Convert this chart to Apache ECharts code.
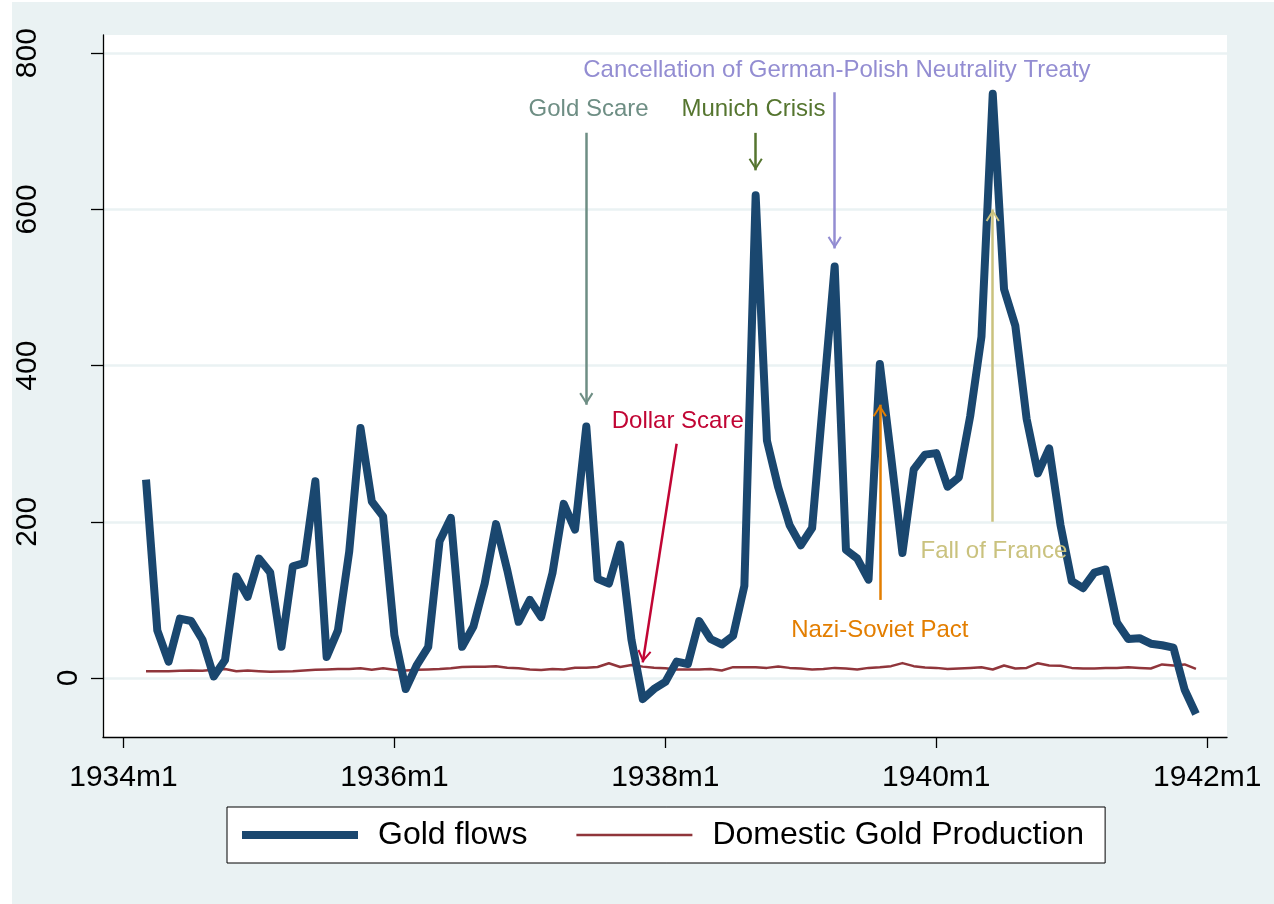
<!DOCTYPE html>
<html>
<head>
<meta charset="utf-8">
<title>Gold flows</title>
<script src="https://cdn.jsdelivr.net/npm/echarts@6/dist/echarts.min.js"></script>
<style>
  html, body { margin: 0; padding: 0; background: #ffffff; }
  #chart { position: absolute; left: 12px; top: 2px; width: 1262px; height: 902px; background: #eaf2f3; }
</style>
</head>
<body>
<div id="chart"></div>
<script>
// x = months since 1934m1, first observation is 1934m3
var startMonth = 2;
var xTickValues = [0, 24, 48, 72, 96];
var xTickLabels = ['1934m1', '1936m1', '1938m1', '1940m1', '1942m1'];
var yTickValues = [0, 200, 400, 600, 800];
var seriesNames = ['Gold flows', 'Domestic Gold Production'];

// 1934m3 - 1941m12
var goldFlows = [
  254, 61, 21, 76, 73, 49, 2, 23, 130, 104, 153, 135, 40, 143, 147, 252, 27, 61, 162, 320, 226, 207, 55,
  -14, 17, 40, 175, 205, 40, 66, 121, 197, 138, 72, 100, 78, 134, 223, 190, 322, 127, 121, 171, 49, -27, -14, -5, 21,
  18, 73, 50, 43, 54, 118, 618, 304, 244, 196, 170, 192, 360, 527, 164, 153, 126, 402, 283, 160, 267, 286, 288, 245, 257,
  335, 437, 748, 498, 451, 332, 262, 294, 196, 124, 115, 135, 139, 71, 50, 51, 44, 42, 39, -15, -46
];
var domesticGold = [
  8.8, 8.8, 8.8, 9.3, 9.7, 9.3, 10.6, 11.5, 8.8, 9.7, 8.8, 8.0, 8.4, 8.8, 9.7, 10.6, 11.0, 11.5, 11.5, 12.4, 10.6, 12.4, 10.6,
  9.7, 10.6, 11.0, 11.5, 12.4, 14.2, 14.6, 14.6, 15.0, 13.3, 12.4, 11.0, 10.2, 11.5, 11.0, 13.3, 13.3, 14.2, 19.0, 14.2, 16.8, 14.6, 13.3, 12.4,
  10.9, 10.9, 10.9, 11.7, 9.6, 13.9, 13.9, 13.9, 13.0, 14.8, 13.0, 12.2, 10.9, 11.7, 13.0, 12.2, 10.9, 13.0, 13.9, 15.2, 19.1, 15.2, 13.5, 13.0, 11.7, 12.2,
  13.0, 13.9, 10.9, 16.0, 12.2, 13.0, 19.0, 16.0, 15.7, 13.0, 12.2, 12.2, 13.0, 13.0, 13.9, 13.0, 12.2, 17.4, 16.0, 17.4, 11.7
];

// 注释: 文字, 颜色, 文字位置, 箭头起点, 箭头终点
var noteText = ['Gold Scare', 'Munich Crisis', 'Cancellation of German-Polish Neutrality Treaty', 'Dollar Scare', 'Nazi-Soviet Pact', 'Fall of France'];
var noteColor = ['#6e8e84', '#55752f', '#938dd2', '#c10534', '#e37e00', '#cac27e'];
var notePos = [[41.2, 728], [55.8, 728], [63.2, 778], [49.1, 328], [67, 61], [77.1, 162]];
var arrowFrom = [[41, 698], [56, 698], [63, 750], [49, 300], [67, 100], [77, 200]];
var arrowTo = [[41, 350], [56, 650], [63, 550], [46, 20], [67, 350], [77, 600]];

var FONT = '"Liberation Sans", Arial, sans-serif';
var arrowHead = 'path://M0,-12.2 M0,0 L7,11 L5.3,12.2 L0,3.6 L-5.3,12.2 L-7,11 Z';

function toPairs(arr) {
  return arr.map(function (v, i) { return [startMonth + i, v]; });
}

var chart = echarts.init(document.getElementById('chart'));
chart.setOption({
  animation: false,
  backgroundColor: '#eaf2f3',
  grid: {
    left: 91, right: 47, top: 33, bottom: 167,
    show: true, backgroundColor: '#ffffff', borderWidth: 0
  },
  legend: {
    data: [
      { name: seriesNames[0], icon: 'path://M0,0 H116 V8 H0 Z' },
      { name: seriesNames[1], icon: 'path://M0,0 H116 V2.6 H0 Z' }
    ],
    left: 215, top: 805,
    itemWidth: 116, itemHeight: 14, itemGap: 49,
    backgroundColor: '#ffffff', borderColor: '#000000', borderWidth: 1,
    padding: [12, 21, 12, 15],
    textStyle: { fontSize: 32, color: '#000000', fontFamily: FONT, padding: [0, 0, 0, 15] }
  },
  xAxis: {
    type: 'value', min: -1.81, max: 97.75,
    axisLine: { onZero: false, lineStyle: { color: '#000000', width: 1.3 } },
    axisTick: { customValues: xTickValues, length: 11, lineStyle: { color: '#000000', width: 1.3 } },
    axisLabel: {
      customValues: xTickValues, margin: 26, fontSize: 30, color: '#000000', fontFamily: FONT,
      formatter: function (v) { return xTickLabels[xTickValues.indexOf(v)]; }
    },
    splitLine: { show: false }
  },
  yAxis: {
    type: 'value', min: -75.5, max: 823.3,
    axisLine: { show: true, onZero: false, lineStyle: { color: '#000000', width: 1.3 } },
    axisTick: { show: true, customValues: yTickValues, length: 12, lineStyle: { color: '#000000', width: 1.3 } },
    axisLabel: {
      customValues: yTickValues, rotate: 90, margin: 19, fontSize: 30, color: '#000000', fontFamily: FONT,
      formatter: function (v) { return v === 0 ? '{a|0}' : '{b|' + v + '}'; },
      rich: {
        a: { fontSize: 30, fontFamily: FONT, color: '#000000' },
        b: { fontSize: 30, fontFamily: FONT, color: '#000000', padding: [0, 0, 41, 0] }
      }
    },
    splitLine: { show: true, lineStyle: { color: '#eaf2f3', width: 2.5 } }
  },
  series: [
    {
      name: seriesNames[0], type: 'line', data: toPairs(goldFlows),
      symbol: 'none', z: 3,
      lineStyle: { color: '#1a476f', width: 8, join: 'round', cap: 'butt' },
      itemStyle: { color: '#1a476f' }
    },
    {
      name: seriesNames[1], type: 'line', data: toPairs(domesticGold),
      symbol: 'none', z: 2,
      lineStyle: { color: '#90353b', width: 2.5, join: 'round' },
      itemStyle: { color: '#90353b' }
    },
    {
      // 注释箭头和文字
      name: 'notes', type: 'line', data: [], z: 5, silent: true,
      markLine: {
        silent: true, animation: false,
        symbol: ['none', arrowHead], symbolSize: [14, 24.4],
        label: { show: false },
        emphasis: { disabled: true },
        data: noteText.map(function (t, i) {
          return [
            { coord: arrowFrom[i], lineStyle: { color: noteColor[i], width: 2.5, type: 'solid' }, itemStyle: { color: noteColor[i] } },
            { coord: arrowTo[i] }
          ];
        })
      },
      markPoint: {
        silent: true, animation: false,
        symbol: 'circle', symbolSize: 0,
        data: noteText.map(function (t, i) {
          return {
            coord: notePos[i], name: t,
            label: { show: true, position: 'inside', formatter: '{b}', fontSize: 24, fontFamily: FONT, color: noteColor[i] }
          };
        })
      }
    }
  ]
});
</script>
</body>
</html>
